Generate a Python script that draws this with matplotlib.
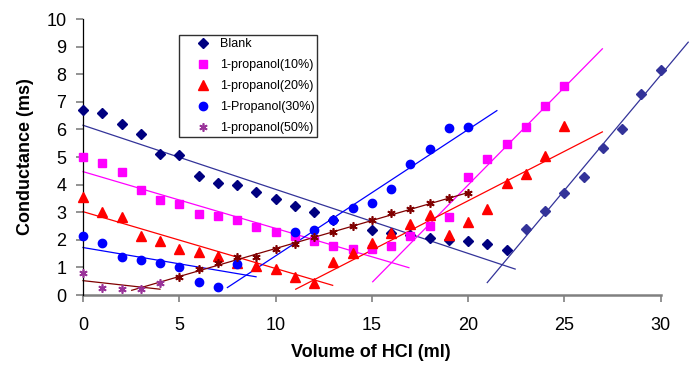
import numpy as np
import matplotlib
matplotlib.use("Agg")
import matplotlib.pyplot as plt

plt.rcParams['font.family'] = ['Liberation Sans', 'DejaVu Sans']

nan = np.nan
# ---- data ----
blank_x1 = list(range(0, 23))
blank_y1 = [6.69, 6.60, 6.20, 5.84, 5.12, 5.07, 4.31, 4.04, 3.99, 3.75, 3.48,
            3.24, 2.99, 2.72, nan, 2.37, 2.24, 2.16, 2.08, 2.00, 1.97, 1.86, 1.63]
blank_x2 = list(range(23, 31))
blank_y2 = [2.38, 3.06, 3.68, 4.26, 5.31, 6.03, 7.27, 8.17]

p10_x = list(range(0, 26))
p10_y = [4.99, 4.80, 4.44, 3.81, 3.45, 3.29, 2.95, 2.88, 2.70, 2.48, 2.30, 2.14, 1.96,
         1.78, 1.67, 1.66, 1.78, 2.14, 2.50, 2.84, 4.29, 4.94, 5.48, 6.07, 6.83, 7.58]

p20_x = list(range(0, 26))
p20_y = [3.55, 3.02, 2.81, 2.15, 1.97, 1.67, 1.54, 1.42, 1.15, 1.04, 0.95, 0.66, 0.45,
         1.21, 1.52, 1.89, 2.25, 2.58, 2.90, 2.18, 2.65, 3.12, 4.04, 4.37, 5.03, 6.13]

p30_x = list(range(0, 21))
p30_y = [2.15, 1.90, 1.39, 1.27, 1.15, 1.03, 0.48, 0.30, 1.13, nan, nan,
         2.28, 2.36, 2.72, 3.15, 3.33, 3.83, 4.73, 5.30, 6.04, 6.07]

p50_x1 = list(range(0, 5))
p50_y1 = [0.81, 0.24, 0.21, 0.21, 0.45]
p50_x2 = list(range(5, 21))
p50_y2 = [0.66, 0.93, 1.17, 1.37, 1.39, 1.66, 1.86, 2.09, 2.30, 2.50, 2.72, 2.96,
          3.12, 3.33, 3.53, 3.71]

# trend lines (end points)
blank_fit1_x, blank_fit1_y = [0, 22.45], [6.15, 0.94]
blank_fit2_x, blank_fit2_y = [21.0, 31.44], [0.45, 9.16]
p10_fit1_x, p10_fit1_y = [0, 16.93], [4.47, 0.99]
p10_fit2_x, p10_fit2_y = [15.05, 26.98], [0.48, 8.92]
p20_fit1_x, p20_fit1_y = [0, 12.97], [3.02, 0.35]
p20_fit2_x, p20_fit2_y = [11.05, 26.98], [0.21, 5.91]
p30_fit1_x, p30_fit1_y = [0, 8.99], [1.72, 0.66]
p30_fit2_x, p30_fit2_y = [7.5, 21.5], [0.27, 6.68]
p50_fit1_x, p50_fit1_y = [0, 4.0], [0.52, 0.21]
p50_fit2_x, p50_fit2_y = [2.53, 20.0], [0.17, 3.71]

labels = ['Blank', '1-propanol(10%)', '1-propanol(20%)', '1-Propanol(30%)', '1-propanol(50%)']
x_ticks = [0, 5, 10, 15, 20, 25, 30]
y_ticks = list(range(0, 11))

# ---- figure ----
fig = plt.figure(figsize=(7.0, 3.79), dpi=100)
ax = fig.add_axes([83/700, 1 - 295/379, 577.5/700, 276/379])

star = (6, 2, 0)
lw = 0.9
fits = [
    (blank_fit1_x, blank_fit1_y, '#333399'), (blank_fit2_x, blank_fit2_y, '#333399'),
    (p10_fit1_x, p10_fit1_y, '#FF00FF'), (p10_fit2_x, p10_fit2_y, '#FF00FF'),
    (p20_fit1_x, p20_fit1_y, '#FF0000'), (p20_fit2_x, p20_fit2_y, '#FF0000'),
    (p30_fit1_x, p30_fit1_y, '#0000FF'), (p30_fit2_x, p30_fit2_y, '#0000FF'),
    (p50_fit1_x, p50_fit1_y, '#800000'), (p50_fit2_x, p50_fit2_y, '#800000'),
]
for fx, fy, c in fits:
    ax.plot(fx, fy, color=c, lw=lw, clip_on=False, zorder=2)

h1, = ax.plot(blank_x1, blank_y1, ls='none', marker='D', ms=5.2, color='#000080', mec='#000080', clip_on=False, zorder=3)
ax.plot(blank_x2, blank_y2, ls='none', marker='D', ms=5.2, color='#333399', mec='#333399', clip_on=False, zorder=3)
h2, = ax.plot(p10_x, p10_y, ls='none', marker='s', ms=5.8, color='#FF00FF', mec='#FF00FF', clip_on=False, zorder=3)
h3, = ax.plot(p20_x, p20_y, ls='none', marker='^', ms=7, color='#FF0000', mec='#FF0000', clip_on=False, zorder=3)
h4, = ax.plot(p30_x, p30_y, ls='none', marker='o', ms=6, color='#0000FF', mec='#0000FF', clip_on=False, zorder=3)
h5, = ax.plot(p50_x1, p50_y1, ls='none', marker=star, ms=6, color='#993399', mec='#993399', mew=1.2, clip_on=False, zorder=3)
ax.plot(p50_x2, p50_y2, ls='none', marker=star, ms=6, color='#800000', mec='#800000', mew=1.2, clip_on=False, zorder=3)

ax.set_xlim(0, 30)
ax.set_ylim(0, 10)
ax.set_xticks(x_ticks)
ax.set_yticks(y_ticks)

for s in ['top', 'right']:
    ax.spines[s].set_visible(False)
ax.spines['left'].set_color('black')
ax.spines['left'].set_linewidth(0.9)
ax.spines['bottom'].set_color('#808080')
ax.spines['bottom'].set_linewidth(1.8)
ax.spines['bottom'].set_zorder(1)

ax.tick_params(axis='y', direction='out', length=5, width=1.2, color='#808080',
               labelsize=13, pad=7)
ax.tick_params(axis='x', direction='out', length=5, width=1.2, color='#808080',
               labelsize=13, pad=11)

ax.set_xlabel('Volume of HCI (ml)', fontsize=13, fontweight='bold')
ax.xaxis.set_label_coords((371 - 83) / 577.5, -(344 - 295) / 276)
ax.set_ylabel('Conductance (ms)', fontsize=13, fontweight='bold', labelpad=9)

leg = fig.legend([h1, h2, h3, h4, h5], labels, loc='upper left',
                 bbox_to_anchor=(179/700, 1 - 35/379), bbox_transform=fig.transFigure,
                 fontsize=9, borderpad=0.25, handlelength=3.4, handletextpad=-0.4,
                 labelspacing=0.72, borderaxespad=0, fancybox=False,
                 edgecolor='#303030', framealpha=1)
leg.get_frame().set_linewidth(1.0)

fig.savefig('out.png', dpi=100)
